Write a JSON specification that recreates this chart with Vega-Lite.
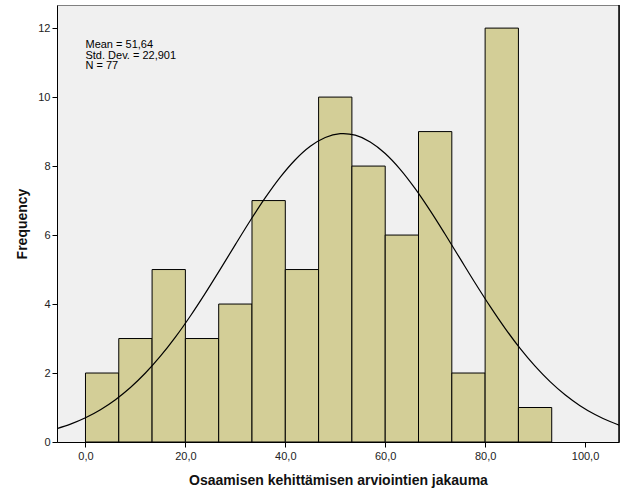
{
  "$schema": "https://vega.github.io/schema/vega-lite/v6.json",
  "width": 562,
  "height": 437,
  "autosize": {"type": "none"},
  "padding": {"left": 57, "top": 5, "right": 7, "bottom": 59},
  "background": "#ffffff",
  "config": {
    "view": {"fill": "#F0F0F0", "stroke": "#808080", "strokeWidth": 1},
    "axis": {
      "labelFont": "Liberation Sans",
      "labelFontSize": 11,
      "labelColor": "#222222",
      "titleFont": "Liberation Sans",
      "titleFontSize": 14,
      "titleFontWeight": "bold",
      "titleColor": "#111111",
      "domainColor": "#000000",
      "tickColor": "#000000",
      "tickSize": 5,
      "grid": false
    }
  },
  "datasets": {
    "bins": [
      {"start": 0, "end": 6.6667, "count": 2},
      {"start": 6.6667, "end": 13.3333, "count": 3},
      {"start": 13.3333, "end": 20, "count": 5},
      {"start": 20, "end": 26.6667, "count": 3},
      {"start": 26.6667, "end": 33.3333, "count": 4},
      {"start": 33.3333, "end": 40, "count": 7},
      {"start": 40, "end": 46.6667, "count": 5},
      {"start": 46.6667, "end": 53.3333, "count": 10},
      {"start": 53.3333, "end": 60, "count": 8},
      {"start": 60, "end": 66.6667, "count": 6},
      {"start": 66.6667, "end": 73.3333, "count": 9},
      {"start": 73.3333, "end": 80, "count": 2},
      {"start": 80, "end": 86.6667, "count": 12},
      {"start": 86.6667, "end": 93.3333, "count": 1}
    ],
    "curve": [
      {"x": -6, "y": 0.3766}, {"x": -3, "y": 0.5192}, {"x": 0, "y": 0.7038},
      {"x": 3, "y": 0.9373}, {"x": 6, "y": 1.2274}, {"x": 9, "y": 1.58},
      {"x": 12, "y": 1.9994}, {"x": 15, "y": 2.4868}, {"x": 18, "y": 3.0401},
      {"x": 21, "y": 3.6539}, {"x": 24, "y": 4.3167}, {"x": 27, "y": 5.013},
      {"x": 30, "y": 5.7223}, {"x": 33, "y": 6.4214}, {"x": 36, "y": 7.0826},
      {"x": 39, "y": 7.6791}, {"x": 42, "y": 8.1842}, {"x": 45, "y": 8.5744},
      {"x": 48, "y": 8.8302}, {"x": 51, "y": 8.9389}, {"x": 51.64, "y": 8.9424},
      {"x": 54, "y": 8.895}, {"x": 57, "y": 8.7007}, {"x": 60, "y": 8.3658},
      {"x": 63, "y": 7.9072}, {"x": 66, "y": 7.3464}, {"x": 69, "y": 6.7093},
      {"x": 72, "y": 6.0229}, {"x": 75, "y": 5.3151}, {"x": 78, "y": 4.6104},
      {"x": 81, "y": 3.9312}, {"x": 84, "y": 3.295}, {"x": 87, "y": 2.7148},
      {"x": 90, "y": 2.1987}, {"x": 93, "y": 1.7503}, {"x": 96, "y": 1.3698},
      {"x": 99, "y": 1.0538}, {"x": 102, "y": 0.7968}, {"x": 105, "y": 0.5923},
      {"x": 107, "y": 0.4816}
    ],
    "stats": [
      {"x": 0, "y": 11.68, "label": ["Mean = 51,64", "Std. Dev. = 22,901", "N = 77"]}
    ],
    "edge": [
      {"x": 106.8}
    ]
  },
  "layer": [
    {
      "data": {"name": "bins"},
      "mark": {"type": "rect", "fill": "#D3CE97", "stroke": "#000000", "strokeWidth": 1},
      "encoding": {
        "x": {
          "field": "start", "type": "quantitative",
          "scale": {"domain": [-5.7, 106.8], "nice": false, "zero": false},
          "axis": {
            "values": [0, 20, 40, 60, 80, 100],
            "labelExpr": "replace(format(datum.value, '.1f'), '.', ',')",
            "title": "Osaamisen kehittämisen arviointien jakauma",
            "titlePadding": 12,
            "labelPadding": 3
          }
        },
        "x2": {"field": "end"},
        "y": {
          "field": "count", "type": "quantitative",
          "scale": {"domain": [0, 12.67], "nice": false},
          "axis": {
            "values": [0, 2, 4, 6, 8, 10, 12],
            "title": "Frequency",
            "titlePadding": 8,
            "labelPadding": 2
          }
        },
        "y2": {"datum": 0}
      }
    },
    {
      "data": {"name": "curve"},
      "mark": {"type": "line", "color": "#000000", "strokeWidth": 1.2, "clip": true, "interpolate": "monotone"},
      "encoding": {
        "x": {"field": "x", "type": "quantitative"},
        "y": {"field": "y", "type": "quantitative"}
      }
    },
    {
      "data": {"name": "edge"},
      "mark": {"type": "rule", "color": "#000000", "strokeWidth": 1.5},
      "encoding": {
        "x": {"field": "x", "type": "quantitative"}
      }
    },
    {
      "data": {"name": "stats"},
      "mark": {"type": "text", "align": "left", "baseline": "top", "font": "Liberation Sans", "fontSize": 11, "lineHeight": 10.5, "color": "#000000"},
      "encoding": {
        "x": {"field": "x", "type": "quantitative"},
        "y": {"field": "y", "type": "quantitative"},
        "text": {"field": "label"}
      }
    }
  ]
}
